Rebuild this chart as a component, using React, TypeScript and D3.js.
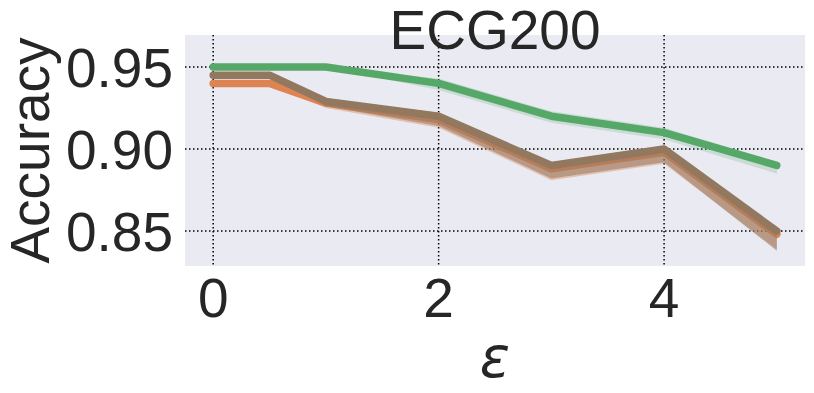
import React from "react";
import * as d3 from "d3";

const epsValues = [0, 0.5, 1, 2, 3, 4, 5];
const xTicks = [0, 2, 4];
const yTicks = [0.85, 0.9, 0.95];
const yTickLabels = ["0.85", "0.90", "0.95"];

const orangeMean = [0.94, 0.94, 0.928, 0.918, 0.888, 0.898, 0.848];
const orangeLow = [0.94, 0.94, 0.925, 0.913, 0.881, 0.891, 0.839];
const orangeHigh = [0.94, 0.94, 0.93, 0.92, 0.89, 0.9, 0.85];

const greenMean = [0.95, 0.95, 0.95, 0.94, 0.92, 0.91, 0.89];
const greenLow = [0.95, 0.95, 0.95, 0.936, 0.916, 0.906, 0.885];
const greenHigh = [0.95, 0.95, 0.95, 0.943, 0.923, 0.913, 0.892];

const brownMean = [0.945, 0.945, 0.929, 0.92, 0.89, 0.9, 0.85];
const brownLow = [0.945, 0.945, 0.926, 0.914, 0.882, 0.892, 0.838];
const brownHigh = [0.945, 0.945, 0.931, 0.922, 0.892, 0.902, 0.851];

const W = 814;
const H = 393;
const left = 185, right = 805, top = 35, bottom = 266;
const FONT = "'Liberation Sans', Arial, sans-serif";

export default function App() {
  const x = d3.scaleLinear().domain([-0.25, 5.25]).range([left, right]);
  const y = d3.scaleLinear().domain([0.8287, 0.9695]).range([bottom, top]);
  const line = (vals: number[]) =>
    d3.line<number>().x((_, i) => x(epsValues[i])).y((v) => y(v))(vals) || "";
  const area = (lo: number[], hi: number[]) =>
    d3
      .area<number>()
      .x((_, i) => x(epsValues[i]))
      .y0((_, i) => y(lo[i]))
      .y1((_, i) => y(hi[i]))(lo) || "";

  const series = [
    { mean: orangeMean, lo: orangeLow, hi: orangeHigh, color: "#dd8452", bandOp: 0.4 },
    { mean: greenMean, lo: greenLow, hi: greenHigh, color: "#55a868", bandOp: 0.22 },
    { mean: brownMean, lo: brownLow, hi: brownHigh, color: "#937860", bandOp: 0.55 },
  ];

  return (
    <svg width={W} height={H} style={{ position: "absolute", left: 0, top: 0, background: "#fff" }}>
      <rect x={left} y={top} width={right - left} height={bottom - top} fill="#eaeaf2" />
      <g>
        {xTicks.map((t) => (
          <line key={"gx" + t} x1={x(t)} x2={x(t)} y1={top} y2={bottom} stroke="#000" strokeWidth={1.5} strokeDasharray="1.5,2.5" />
        ))}
        {yTicks.map((t) => (
          <line key={"gy" + t} x1={left} x2={right} y1={y(t)} y2={y(t)} stroke="#000" strokeWidth={1.5} strokeDasharray="1.5,2.5" />
        ))}
      </g>
      {series.map((s, i) => (
        <g key={i}>
          <path d={area(s.lo, s.hi)} fill={s.color} fillOpacity={s.bandOp} stroke="none" />
          <path d={line(s.mean)} fill="none" stroke={s.color} strokeWidth={7.5} strokeLinejoin="round" strokeLinecap="round" />
        </g>
      ))}
      {xTicks.map((t) => (
        <text key={"xt" + t} x={x(t)} y={317} textAnchor="middle" fontFamily={FONT} fontSize={55} fill="#262626">
          {t}
        </text>
      ))}
      {yTicks.map((t, i) => (
        <text key={"yt" + t} x={173} y={y(t) + 20} textAnchor="end" fontFamily={FONT} fontSize={55} fill="#262626">
          {yTickLabels[i]}
        </text>
      ))}
      <text x={(left + right) / 2} y={49} textAnchor="middle" fontFamily={FONT} fontSize={55} fill="#262626">
        ECG200
      </text>
      <text x={(left + right) / 2} y={377} textAnchor="middle" fontFamily="'DejaVu Sans', sans-serif" fontStyle="italic" fontSize={56} fill="#262626">
        ε
      </text>
      <text transform={`translate(49, ${(top + bottom) / 2}) rotate(-90)`} textAnchor="middle" fontFamily={FONT} fontSize={55} fill="#262626">
        Accuracy
      </text>
    </svg>
  );
}
